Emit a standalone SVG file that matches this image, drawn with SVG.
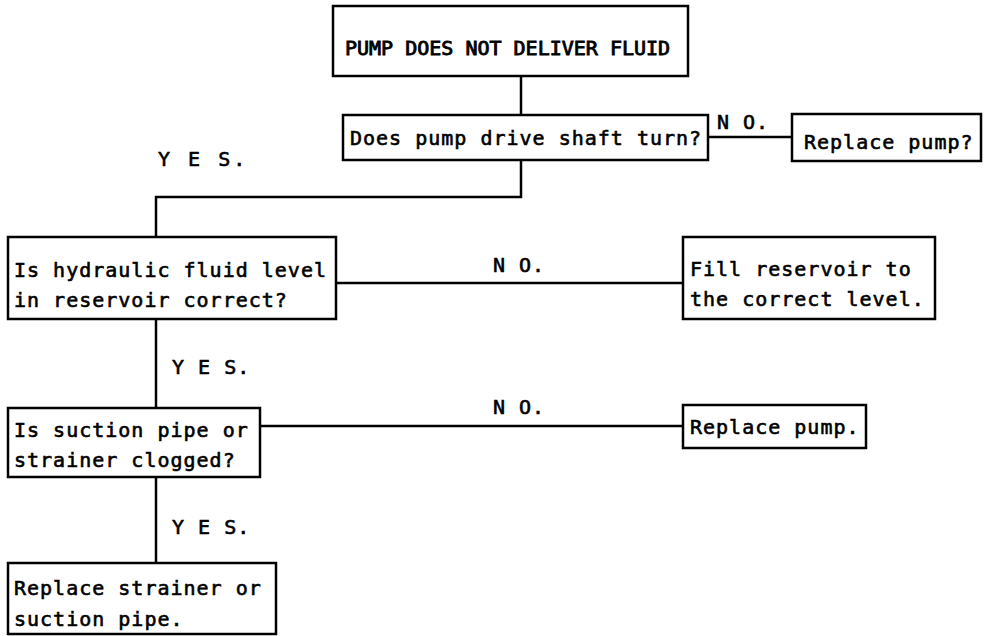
<svg xmlns="http://www.w3.org/2000/svg" width="984" height="636" viewBox="0 0 984 636">
  <style>
    .box { fill: #fff; stroke: #000; stroke-width: 2.5; }
    .wire { fill: none; stroke: #000; stroke-width: 2.5; }
    text { font-family: "DejaVu Sans Mono", "Liberation Mono", monospace; font-size: 20px; fill: #000; stroke: #000; stroke-width: 0.6px; letter-spacing: 1px; }
    .title { letter-spacing: 0; stroke-width: 0.9px; }
    .wide { letter-spacing: 3px; }
  </style>
  <rect width="984" height="636" fill="#fff"/>

  <!-- connectors and their branch labels -->
  <g id="connectors">
    <path class="wire" d="M521 76 V115"/>
    <path class="wire" d="M708 137 H792"/>
    <path class="wire" d="M521 160 V197 H156 V237"/>
    <path class="wire" d="M336 283 H683"/>
    <path class="wire" d="M156 320 V408"/>
    <path class="wire" d="M260 426 H683"/>
    <path class="wire" d="M156 477 V563"/>
    <text x="717" y="129">N O.</text>
    <text class="wide" x="158" y="166">Y E S.</text>
    <text x="493" y="272">N O.</text>
    <text x="172" y="374">Y E S.</text>
    <text x="493" y="414">N O.</text>
    <text x="172" y="534">Y E S.</text>
  </g>

  <g id="start">
    <rect class="box" x="333" y="6" width="355" height="70"/>
    <text class="title" x="345" y="55">PUMP DOES NOT DELIVER FLUID</text>
  </g>

  <g id="q-shaft">
    <rect class="box" x="343" y="115" width="365" height="45"/>
    <text x="350" y="145">Does pump drive shaft turn?</text>
  </g>

  <g id="a-replace-pump-q">
    <rect class="box" x="792" y="114" width="189" height="47"/>
    <text x="804" y="149">Replace pump?</text>
  </g>

  <g id="q-fluid-level">
    <rect class="box" x="8" y="237" width="328" height="82"/>
    <text x="14" y="277">Is hydraulic fluid level</text>
    <text x="14" y="307">in reservoir correct?</text>
  </g>

  <g id="a-fill">
    <rect class="box" x="683" y="237" width="252" height="82"/>
    <text x="690" y="276">Fill reservoir to</text>
    <text x="690" y="306">the correct level.</text>
  </g>

  <g id="q-clogged">
    <rect class="box" x="8" y="408" width="252" height="69"/>
    <text x="14" y="437">Is suction pipe or</text>
    <text x="14" y="467">strainer clogged?</text>
  </g>

  <g id="a-replace-pump">
    <rect class="box" x="683" y="405" width="183" height="43"/>
    <text x="690" y="434">Replace pump.</text>
  </g>

  <g id="a-replace-strainer">
    <rect class="box" x="8" y="563" width="268" height="71"/>
    <text x="14" y="595">Replace strainer or</text>
    <text x="14" y="626">suction pipe.</text>
  </g>
</svg>
